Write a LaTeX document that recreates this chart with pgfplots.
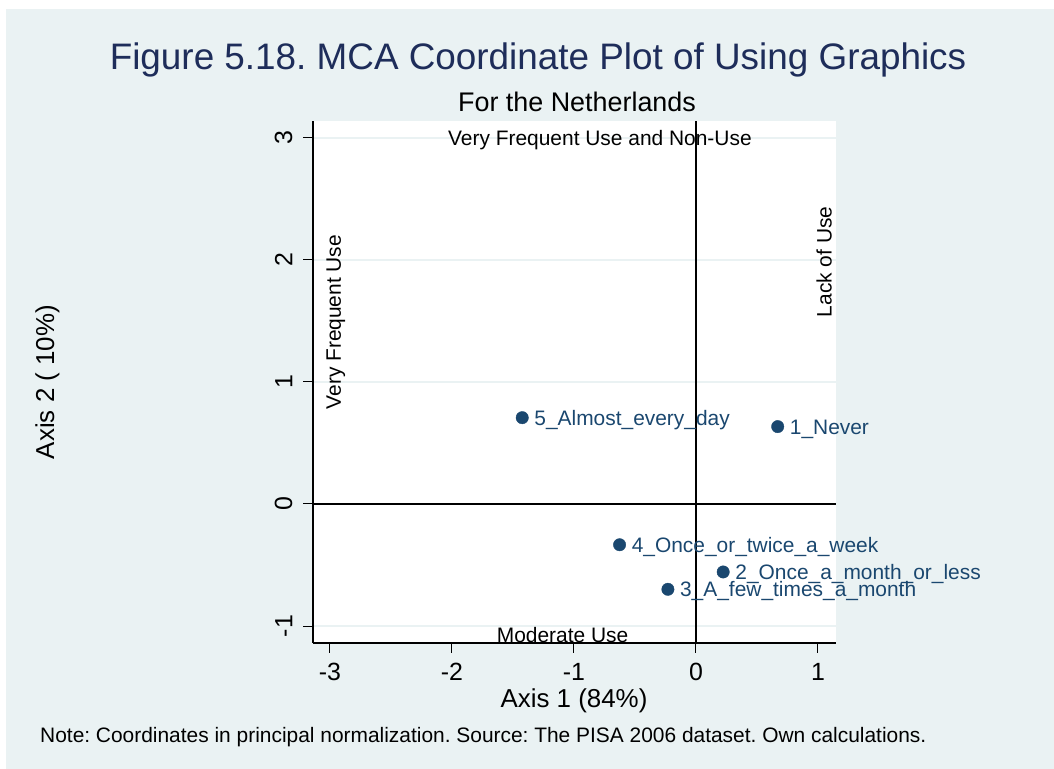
\documentclass[border=0pt]{standalone}
\usepackage{pgfplots}
\pgfplotsset{compat=1.18}
\usepackage{fontspec}
\setmainfont{Liberation Sans}
\definecolor{bgblue}{RGB}{234,242,243}
\definecolor{titlenavy}{RGB}{30,45,90}
\definecolor{stnavy}{RGB}{26,71,111}

\begin{document}
\frenchspacing
\begin{tikzpicture}[x=1bp,y=1bp]
% graph region
\fill[white] (0,0) rectangle (1054,769);
\fill[bgblue] (6,0) rectangle (1054,760);

% titles and note
\node[anchor=base, inner sep=0, text=titlenavy, font=\fontsize{37}{40}\selectfont]
  at (538,699) {Figure 5.18. MCA Coordinate Plot of Using Graphics};
\node[anchor=base, inner sep=0, font=\fontsize{27}{30}\selectfont]
  at (577,657) {For the Netherlands};
\node[anchor=base, inner sep=0, font=\fontsize{26}{28}\selectfont]
  at (574,61) {Axis 1 (84\%)};
\node[anchor=base, inner sep=0, rotate=90, font=\fontsize{26}{28}\selectfont]
  at (54,387) {Axis 2 ( 10\%)};
\node[anchor=base west, inner sep=0, font=\fontsize{21}{23}\selectfont]
  at (40,26) {Note: Coordinates in principal normalization. Source: The PISA 2006 dataset. Own calculations.};

\begin{axis}[
    at={(313bp,126bp)}, anchor=south west,
    scale only axis,
    width=523bp, height=521.5bp,
    xmin=-3.139, xmax=1.148,
    ymin=-1.139, ymax=3.134,
    clip=false,
    axis background/.style={fill=white},
    axis x line*=bottom, axis y line*=left,
    axis line style={line width=1.3bp, black},
    tick align=outside,
    major tick length=10bp,
    tick style={line width=1bp, black},
    xtick={-3,-2,-1,0,1},
    xticklabels={-3,-2,-1,0,1},
    ytick={-1,0,1,2,3},
    yticklabels={-1,0,1,2,3},
    ticklabel style={font=\fontsize{25}{26}\selectfont},
    xticklabel shift=7bp,
    yticklabel shift=7bp,
    yticklabel style={rotate=90, anchor=south},
    ymajorgrids,
    grid style={bgblue, line width=2.5bp},
]
    \draw[black, line width=1.2bp] ({axis cs:0,0}|-{rel axis cs:0,0}) -- ({axis cs:0,0}|-{rel axis cs:0,1});
    \draw[black, line width=1.2bp] ({axis cs:0,0}-|{rel axis cs:0,0}) -- ({axis cs:0,0}-|{rel axis cs:1,0});

    \node[anchor=base, inner sep=0, yshift=-7.5bp, font=\fontsize{21}{22}\selectfont]
        at (axis cs:-0.787,3.0) {Very Frequent Use and Non-Use};
    \node[anchor=base, inner sep=0, yshift=-7.5bp, font=\fontsize{21}{22}\selectfont]
        at (axis cs:-1.093,-1.074) {Moderate Use};
    \node[anchor=base, inner sep=0, rotate=90, font=\fontsize{21}{22}\selectfont]
        at (axis cs:-2.91,1.49) {Very Frequent Use};
    \node[anchor=base, inner sep=0, rotate=90, font=\fontsize{21}{22}\selectfont]
        at (axis cs:1.111,1.984) {Lack of Use};

    \addplot[only marks, mark=*, mark size=6.2bp,
        mark options={fill=stnavy, draw=stnavy},
        point meta=explicit symbolic,
        nodes near coords,
        every node near coord/.append style={anchor=base west, inner sep=0,
            xshift=12bp, yshift=-7.5bp, text=stnavy,
            font=\fontsize{21}{22}\selectfont}]
    coordinates {
        (-1.424,0.707) [5\_Almost\_every\_day]
        (0.670,0.634) [1\_Never]
        (-0.626,-0.334) [4\_Once\_or\_twice\_a\_week]
        (0.223,-0.557) [2\_Once\_a\_month\_or\_less]
        (-0.230,-0.699) [3\_A\_few\_times\_a\_month]
    };
\end{axis}
\end{tikzpicture}
\end{document}
